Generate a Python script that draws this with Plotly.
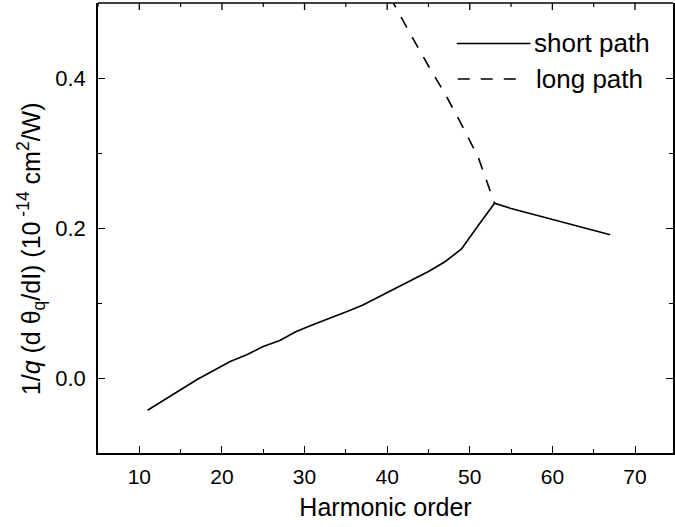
import plotly.graph_objects as go

# Data
harmonic_short = [11, 13, 15, 17, 19, 21, 23, 25, 27, 29, 31, 33, 35, 37, 39,
                  41, 43, 45, 47, 49, 51, 53, 55, 57, 59, 61, 63, 65, 67]
short_path = [-0.043, -0.029, -0.015, -0.002, 0.010, 0.022, 0.031, 0.042, 0.050,
              0.062, 0.071, 0.079, 0.088, 0.097, 0.108, 0.119, 0.130, 0.142,
              0.155, 0.172, 0.203, 0.233, 0.226, 0.220, 0.215, 0.208, 0.203,
              0.197, 0.191]
harmonic_long = [39, 41, 43, 45, 47, 49, 51, 53]
long_path = [0.535, 0.494, 0.455, 0.416, 0.379, 0.338, 0.295, 0.233]

x_ticks = [10, 20, 30, 40, 50, 60, 70]
x_minor = [5, 15, 25, 35, 45, 55, 65]
y_ticks = [0.0, 0.2, 0.4]
y_minor = [-0.1, 0.1, 0.3]

FONT = "Liberation Sans, Arial, sans-serif"
W, H = 675, 527
ML, MR, MT, MB = 98, 0, 3, 74
MAJOR_LEN, MINOR_LEN = 7, 4

fig = go.Figure()
fig.add_trace(go.Scatter(x=harmonic_short, y=short_path, mode="lines",
                         name="short path", line=dict(color="black", width=1.6),
                         showlegend=False))
fig.add_trace(go.Scatter(x=harmonic_long, y=long_path, mode="lines",
                         name="long path",
                         line=dict(color="black", width=1.6, dash="12px,11px"),
                         showlegend=False))

tick_common = dict(ticks="inside", ticklen=MAJOR_LEN, tickwidth=1.3,
                   tickcolor="black", showgrid=False, zeroline=False,
                   showline=True, linecolor="black", linewidth=1.5)
fig.update_layout(
    width=W, height=H,
    margin=dict(l=ML, r=MR, t=MT, b=MB),
    paper_bgcolor="white", plot_bgcolor="white",
    font=dict(family=FONT, color="black"),
    xaxis=dict(range=[5, 74.6], tickvals=x_ticks, mirror=False,
               tickfont=dict(size=21, family=FONT), ticklabelstandoff=4,
               minor=dict(tickvals=x_minor, ticks="inside", ticklen=MINOR_LEN,
                          tickcolor="black", tickwidth=1.2, showgrid=False),
               title=dict(text="Harmonic order", font=dict(size=25, family=FONT),
                          standoff=12),
               **tick_common),
    yaxis=dict(range=[-0.1, 0.5], tickvals=y_ticks, tickformat=".1f",
               mirror="ticks",
               tickfont=dict(size=22, family=FONT), ticklabelstandoff=6,
               minor=dict(tickvals=y_minor, ticks="inside", ticklen=MINOR_LEN,
                          tickcolor="black", tickwidth=1.2, showgrid=False),
               **tick_common),
    showlegend=False,
)

PW = W - ML - MR
PH = H - MT - MB

def px_x(p):
    return (p - ML) / PW

def px_y(p):
    return 1 - (p - MT) / PH

# top frame line and top tick marks
fig.add_shape(type="line", xref="paper", yref="paper", x0=0, x1=1, y0=1, y1=1,
              line=dict(color="black", width=1.5))
for v in x_ticks:
    fig.add_shape(type="line", xref="x", yref="paper", x0=v, x1=v,
                  y0=1, y1=1 - MAJOR_LEN / PH, line=dict(color="black", width=1.3))
for v in x_minor:
    fig.add_shape(type="line", xref="x", yref="paper", x0=v, x1=v,
                  y0=1, y1=1 - MINOR_LEN / PH, line=dict(color="black", width=1.2))

# y axis title as rotated annotation
fig.add_annotation(
    text="1/<i>q</i> (d θ<sub>q</sub>/dI) (10<sup> -14</sup> cm<sup>2</sup>/W)",
    xref="paper", yref="paper", x=px_x(31), y=px_y(249),
    xanchor="center", yanchor="middle", textangle=-90, showarrow=False,
    font=dict(size=25, family=FONT, color="black"))

# legend (drawn manually to match long line samples)
fig.add_shape(type="line", xref="paper", yref="paper",
              x0=px_x(458), x1=px_x(532), y0=px_y(43.5), y1=px_y(43.5),
              line=dict(color="black", width=1.6))
fig.add_shape(type="line", xref="paper", yref="paper",
              x0=px_x(459), x1=px_x(518), y0=px_y(79), y1=px_y(79),
              line=dict(color="black", width=1.6, dash="12px,11px"))
fig.add_annotation(text="short path", xref="paper", yref="paper",
                   x=px_x(534), y=px_y(43.5), xanchor="left", yanchor="middle",
                   showarrow=False, font=dict(size=26, family=FONT, color="black"))
fig.add_annotation(text="long path", xref="paper", yref="paper",
                   x=px_x(536), y=px_y(79), xanchor="left", yanchor="middle",
                   showarrow=False, font=dict(size=26, family=FONT, color="black"))

fig.write_html("out.html")
